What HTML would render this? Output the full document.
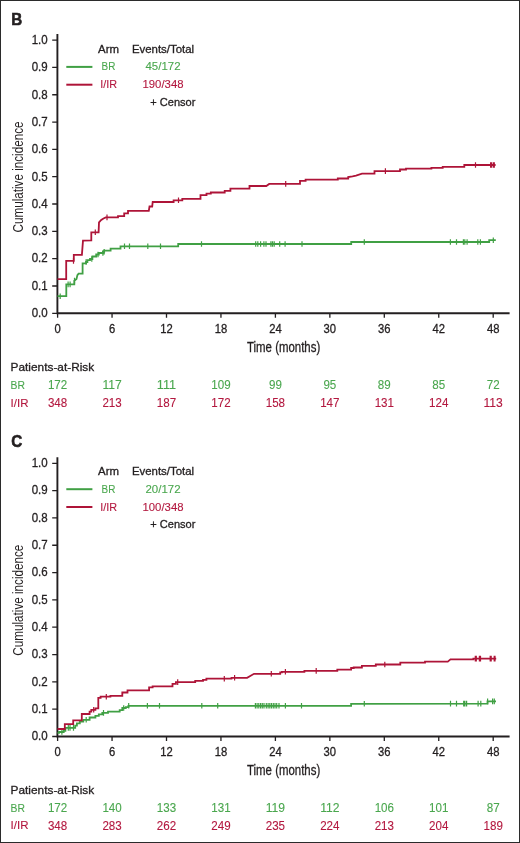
<!DOCTYPE html>
<html><head><meta charset="utf-8"><style>
html,body{margin:0;padding:0;background:#fff;}
body{width:520px;height:843px;overflow:hidden;}
svg{display:block;font-family:"Liberation Sans",sans-serif;will-change:transform;}
</style></head><body>
<svg width="520" height="843" viewBox="0 0 520 843">
<rect x="0" y="0" width="520" height="843" fill="#fff"/>
<text x="11.2" y="24.5" font-size="17" fill="#231f20" textLength="11" lengthAdjust="spacingAndGlyphs" font-weight="bold" stroke="#231f20" stroke-width="0.6">B</text>
<path d="M57.4 34 V313.3 H509.6" fill="none" stroke="#231f20" stroke-width="1.9"/>
<path d="M52.2 313.3H57.4M52.2 285.98H57.4M52.2 258.66H57.4M52.2 231.34H57.4M52.2 204.02H57.4M52.2 176.7H57.4M52.2 149.38H57.4M52.2 122.06H57.4M52.2 94.74H57.4M52.2 67.42H57.4M52.2 40.1H57.4M57.6 313.3V317.8M112.05 313.3V317.8M166.5 313.3V317.8M220.95 313.3V317.8M275.4 313.3V317.8M329.85 313.3V317.8M384.3 313.3V317.8M438.75 313.3V317.8M493.2 313.3V317.8" stroke="#231f20" stroke-width="1.3" fill="none"/>
<text x="47.7" y="317.1" font-size="12.6" fill="#231f20" text-anchor="end" textLength="16" lengthAdjust="spacingAndGlyphs" stroke="#231f20" stroke-width="0.3">0.0</text>
<text x="47.7" y="289.78" font-size="12.6" fill="#231f20" text-anchor="end" textLength="16" lengthAdjust="spacingAndGlyphs" stroke="#231f20" stroke-width="0.3">0.1</text>
<text x="47.7" y="262.46" font-size="12.6" fill="#231f20" text-anchor="end" textLength="16" lengthAdjust="spacingAndGlyphs" stroke="#231f20" stroke-width="0.3">0.2</text>
<text x="47.7" y="235.14" font-size="12.6" fill="#231f20" text-anchor="end" textLength="16" lengthAdjust="spacingAndGlyphs" stroke="#231f20" stroke-width="0.3">0.3</text>
<text x="47.7" y="207.82" font-size="12.6" fill="#231f20" text-anchor="end" textLength="16" lengthAdjust="spacingAndGlyphs" stroke="#231f20" stroke-width="0.3">0.4</text>
<text x="47.7" y="180.5" font-size="12.6" fill="#231f20" text-anchor="end" textLength="16" lengthAdjust="spacingAndGlyphs" stroke="#231f20" stroke-width="0.3">0.5</text>
<text x="47.7" y="153.18" font-size="12.6" fill="#231f20" text-anchor="end" textLength="16" lengthAdjust="spacingAndGlyphs" stroke="#231f20" stroke-width="0.3">0.6</text>
<text x="47.7" y="125.86" font-size="12.6" fill="#231f20" text-anchor="end" textLength="16" lengthAdjust="spacingAndGlyphs" stroke="#231f20" stroke-width="0.3">0.7</text>
<text x="47.7" y="98.54" font-size="12.6" fill="#231f20" text-anchor="end" textLength="16" lengthAdjust="spacingAndGlyphs" stroke="#231f20" stroke-width="0.3">0.8</text>
<text x="47.7" y="71.22" font-size="12.6" fill="#231f20" text-anchor="end" textLength="16" lengthAdjust="spacingAndGlyphs" stroke="#231f20" stroke-width="0.3">0.9</text>
<text x="47.7" y="43.9" font-size="12.6" fill="#231f20" text-anchor="end" textLength="16" lengthAdjust="spacingAndGlyphs" stroke="#231f20" stroke-width="0.3">1.0</text>
<text x="57.6" y="332.9" font-size="12" fill="#231f20" text-anchor="middle" textLength="6.25" lengthAdjust="spacingAndGlyphs" stroke="#231f20" stroke-width="0.3">0</text>
<text x="112.05" y="332.9" font-size="12" fill="#231f20" text-anchor="middle" textLength="6.25" lengthAdjust="spacingAndGlyphs" stroke="#231f20" stroke-width="0.3">6</text>
<text x="166.5" y="332.9" font-size="12" fill="#231f20" text-anchor="middle" textLength="12.5" lengthAdjust="spacingAndGlyphs" stroke="#231f20" stroke-width="0.3">12</text>
<text x="220.95" y="332.9" font-size="12" fill="#231f20" text-anchor="middle" textLength="12.5" lengthAdjust="spacingAndGlyphs" stroke="#231f20" stroke-width="0.3">18</text>
<text x="275.4" y="332.9" font-size="12" fill="#231f20" text-anchor="middle" textLength="12.5" lengthAdjust="spacingAndGlyphs" stroke="#231f20" stroke-width="0.3">24</text>
<text x="329.85" y="332.9" font-size="12" fill="#231f20" text-anchor="middle" textLength="12.5" lengthAdjust="spacingAndGlyphs" stroke="#231f20" stroke-width="0.3">30</text>
<text x="384.3" y="332.9" font-size="12" fill="#231f20" text-anchor="middle" textLength="12.5" lengthAdjust="spacingAndGlyphs" stroke="#231f20" stroke-width="0.3">36</text>
<text x="438.75" y="332.9" font-size="12" fill="#231f20" text-anchor="middle" textLength="12.5" lengthAdjust="spacingAndGlyphs" stroke="#231f20" stroke-width="0.3">42</text>
<text x="493.2" y="332.9" font-size="12" fill="#231f20" text-anchor="middle" textLength="12.5" lengthAdjust="spacingAndGlyphs" stroke="#231f20" stroke-width="0.3">48</text>
<text x="283.6" y="352" font-size="14" fill="#231f20" text-anchor="middle" textLength="73.2" lengthAdjust="spacingAndGlyphs" stroke="#231f20" stroke-width="0.3">Time (months)</text>
<text x="0" y="0" font-size="14" fill="#231f20" text-anchor="middle" textLength="111" lengthAdjust="spacingAndGlyphs" transform="translate(23 177) rotate(-90)">Cumulative incidence</text>
<text x="108.5" y="52.8" font-size="11" fill="#231f20" text-anchor="middle" textLength="21" lengthAdjust="spacingAndGlyphs" stroke="#231f20" stroke-width="0.3">Arm</text>
<text x="163" y="52.8" font-size="11" fill="#231f20" text-anchor="middle" textLength="62.2" lengthAdjust="spacingAndGlyphs" stroke="#231f20" stroke-width="0.3">Events/Total</text>
<path d="M66.3 66.9H92.4" stroke="#40a044" stroke-width="2"/>
<path d="M66.3 84.7H92.4" stroke="#ae1438" stroke-width="2"/>
<text x="108.5" y="70.4" font-size="11" fill="#4aa74e" text-anchor="middle" textLength="13.8" lengthAdjust="spacingAndGlyphs" stroke="#4aa74e" stroke-width="0.1">BR</text>
<text x="108.6" y="88.3" font-size="11" fill="#b3183f" text-anchor="middle" textLength="16.9" lengthAdjust="spacingAndGlyphs" stroke="#b3183f" stroke-width="0.1">I/IR</text>
<text x="163" y="70.4" font-size="11" fill="#4aa74e" text-anchor="middle" textLength="35.1" lengthAdjust="spacingAndGlyphs" stroke="#4aa74e" stroke-width="0.1">45/172</text>
<text x="163" y="88.3" font-size="11" fill="#b3183f" text-anchor="middle" textLength="41" lengthAdjust="spacingAndGlyphs" stroke="#b3183f" stroke-width="0.1">190/348</text>
<text x="150.3" y="106.1" font-size="11" fill="#231f20" textLength="45.1" lengthAdjust="spacingAndGlyphs" stroke="#231f20" stroke-width="0.3">+ Censor</text>
<path d="M57.5 296.2 L66.3 296.2 L66.3 284.4 L74.3 284.4 L74.3 280.8 L76.5 279 L77.4 275.1 L78.6 273.6 L82.6 273.6 L82.6 263.3 L86 263.3 L86 262 L87.4 262 L87.4 260.2 L90 260.2 L90 259 L92.4 259 L92.4 256.5 L96.2 256.5 L96.2 254.5 L98.8 254.5 L98.8 253 L102.9 253 L102.9 251.8 L104.2 251.8 L104.2 250.6 L110.6 250.6 L110.6 248.7 L120.5 248.7 L120.5 246.3 L178.2 246.3 L178.2 244 L351.2 244 L351.2 242 L489.2 242 L489.2 240.2 L495.8 240.2" fill="none" stroke="#40a044" stroke-width="1.8" stroke-linejoin="miter"/>
<path d="M60.2 293.4V299M68.1 281.6V287.2M70.1 281.6V287.2M74.5 277.84V283.44M86.1 259.2V264.8M91.8 256.2V261.8M98 251.7V257.3M102.9 250.2V255.8M104.2 249V254.6M124.5 243.5V249.1M129.5 243.5V249.1M147.8 243.5V249.1M160.5 243.5V249.1M201.5 241.2V246.8M255.7 241.2V246.8M257.8 241.2V246.8M260.6 241.2V246.8M263.9 241.2V246.8M266 241.2V246.8M270.9 241.2V246.8M272.5 241.2V246.8M274.2 241.2V246.8M279.7 241.2V246.8M285.1 241.2V246.8M302 241.2V246.8M364.3 239.2V244.8M450.4 239.2V244.8M456.5 239.2V244.8M463.4 239.2V244.8M464.8 239.2V244.8M467.1 239.2V244.8M477.8 239.2V244.8M480.4 239.2V244.8M493.3 237.4V243" stroke="#40a044" stroke-width="1.2" fill="none"/>
<path d="M57.5 279.2 L66.2 279.2 L66.2 260.9 L73.8 260.9 L73.8 254.8 L81.9 254.8 L83 240.7 L91.3 240.3 L91.3 232.3 L98.6 232.3 L99 222.4 L101.2 220 L103.5 218.5 L105.8 217.4 L118 217.4 L118 216.2 L124.2 216.2 L124.2 213.4 L128 213.4 L128 210.8 L148.8 210.8 L149.5 206.5 L152.2 206.5 L152.7 202 L173.6 202 L173.6 200.3 L182.3 200.3 L182.3 198.9 L200.5 198.9 L200.5 195.1 L206.5 195.1 L206.5 193.7 L210.8 193.7 L210.8 192.5 L224.7 192.5 L224.7 190.8 L230.4 190.8 L230.4 188.7 L249.5 188.7 L249.5 186 L266.3 186 L269.2 183.9 L300 183.9 L300 180.8 L305.6 180.8 L305.6 179.6 L337.8 179.6 L337.8 178.5 L348.2 178.5 L348.2 177 L352.5 176.3 L356 175.6 L362 173.7 L374.5 173.7 L374.5 171.1 L400 171.1 L400 169.5 L406 169.5 L406 168.7 L431.4 168.7 L431.4 167.8 L442.7 167.8 L442.7 166.8 L464.3 166.8 L464.3 165 L495.6 165" fill="none" stroke="#ae1438" stroke-width="1.8" stroke-linejoin="miter"/>
<path d="M73.5 258.1V263.7M95.3 229.5V235.1M107 214.6V220.2M178.5 197.5V203.1M285.7 181.1V186.7M385.4 168.3V173.9M475.5 162.2V167.8M490.6 162.2V167.8M491.6 162.2V167.8M493.4 162.2V167.8M494.3 162.2V167.8" stroke="#ae1438" stroke-width="1.2" fill="none"/>
<text x="10.6" y="371.3" font-size="11.5" fill="#231f20" textLength="83.6" lengthAdjust="spacingAndGlyphs" stroke="#231f20" stroke-width="0.3">Patients-at-Risk</text>
<text x="10.6" y="388.7" font-size="11.5" fill="#4aa74e" textLength="14.4" lengthAdjust="spacingAndGlyphs" stroke="#4aa74e" stroke-width="0.1">BR</text>
<text x="10.6" y="406.5" font-size="11.5" fill="#b3183f" textLength="17.9" lengthAdjust="spacingAndGlyphs" stroke="#b3183f" stroke-width="0.1">I/IR</text>
<text x="57.6" y="388.9" font-size="12" fill="#4aa74e" text-anchor="middle" textLength="19.35" lengthAdjust="spacingAndGlyphs" stroke="#4aa74e" stroke-width="0.1">172</text>
<text x="57.6" y="406.7" font-size="12" fill="#b3183f" text-anchor="middle" textLength="19.35" lengthAdjust="spacingAndGlyphs" stroke="#b3183f" stroke-width="0.1">348</text>
<text x="112.05" y="388.9" font-size="12" fill="#4aa74e" text-anchor="middle" textLength="19.35" lengthAdjust="spacingAndGlyphs" stroke="#4aa74e" stroke-width="0.1">117</text>
<text x="112.05" y="406.7" font-size="12" fill="#b3183f" text-anchor="middle" textLength="19.35" lengthAdjust="spacingAndGlyphs" stroke="#b3183f" stroke-width="0.1">213</text>
<text x="166.5" y="388.9" font-size="12" fill="#4aa74e" text-anchor="middle" textLength="19.35" lengthAdjust="spacingAndGlyphs" stroke="#4aa74e" stroke-width="0.1">111</text>
<text x="166.5" y="406.7" font-size="12" fill="#b3183f" text-anchor="middle" textLength="19.35" lengthAdjust="spacingAndGlyphs" stroke="#b3183f" stroke-width="0.1">187</text>
<text x="220.95" y="388.9" font-size="12" fill="#4aa74e" text-anchor="middle" textLength="19.35" lengthAdjust="spacingAndGlyphs" stroke="#4aa74e" stroke-width="0.1">109</text>
<text x="220.95" y="406.7" font-size="12" fill="#b3183f" text-anchor="middle" textLength="19.35" lengthAdjust="spacingAndGlyphs" stroke="#b3183f" stroke-width="0.1">172</text>
<text x="275.4" y="388.9" font-size="12" fill="#4aa74e" text-anchor="middle" textLength="12.9" lengthAdjust="spacingAndGlyphs" stroke="#4aa74e" stroke-width="0.1">99</text>
<text x="275.4" y="406.7" font-size="12" fill="#b3183f" text-anchor="middle" textLength="19.35" lengthAdjust="spacingAndGlyphs" stroke="#b3183f" stroke-width="0.1">158</text>
<text x="329.85" y="388.9" font-size="12" fill="#4aa74e" text-anchor="middle" textLength="12.9" lengthAdjust="spacingAndGlyphs" stroke="#4aa74e" stroke-width="0.1">95</text>
<text x="329.85" y="406.7" font-size="12" fill="#b3183f" text-anchor="middle" textLength="19.35" lengthAdjust="spacingAndGlyphs" stroke="#b3183f" stroke-width="0.1">147</text>
<text x="384.3" y="388.9" font-size="12" fill="#4aa74e" text-anchor="middle" textLength="12.9" lengthAdjust="spacingAndGlyphs" stroke="#4aa74e" stroke-width="0.1">89</text>
<text x="384.3" y="406.7" font-size="12" fill="#b3183f" text-anchor="middle" textLength="19.35" lengthAdjust="spacingAndGlyphs" stroke="#b3183f" stroke-width="0.1">131</text>
<text x="438.75" y="388.9" font-size="12" fill="#4aa74e" text-anchor="middle" textLength="12.9" lengthAdjust="spacingAndGlyphs" stroke="#4aa74e" stroke-width="0.1">85</text>
<text x="438.75" y="406.7" font-size="12" fill="#b3183f" text-anchor="middle" textLength="19.35" lengthAdjust="spacingAndGlyphs" stroke="#b3183f" stroke-width="0.1">124</text>
<text x="493.2" y="388.9" font-size="12" fill="#4aa74e" text-anchor="middle" textLength="12.9" lengthAdjust="spacingAndGlyphs" stroke="#4aa74e" stroke-width="0.1">72</text>
<text x="493.2" y="406.7" font-size="12" fill="#b3183f" text-anchor="middle" textLength="19.35" lengthAdjust="spacingAndGlyphs" stroke="#b3183f" stroke-width="0.1">113</text>
<text x="11.2" y="446.8" font-size="17" fill="#231f20" textLength="11" lengthAdjust="spacingAndGlyphs" font-weight="bold" stroke="#231f20" stroke-width="0.6">C</text>
<path d="M57.4 457.2 V736.5 H509.6" fill="none" stroke="#231f20" stroke-width="1.9"/>
<path d="M52.2 736.5H57.4M52.2 709.18H57.4M52.2 681.86H57.4M52.2 654.54H57.4M52.2 627.22H57.4M52.2 599.9H57.4M52.2 572.58H57.4M52.2 545.26H57.4M52.2 517.94H57.4M52.2 490.62H57.4M52.2 463.3H57.4M57.6 736.5V741M112.05 736.5V741M166.5 736.5V741M220.95 736.5V741M275.4 736.5V741M329.85 736.5V741M384.3 736.5V741M438.75 736.5V741M493.2 736.5V741" stroke="#231f20" stroke-width="1.3" fill="none"/>
<text x="47.7" y="740.3" font-size="12.6" fill="#231f20" text-anchor="end" textLength="16" lengthAdjust="spacingAndGlyphs" stroke="#231f20" stroke-width="0.3">0.0</text>
<text x="47.7" y="712.98" font-size="12.6" fill="#231f20" text-anchor="end" textLength="16" lengthAdjust="spacingAndGlyphs" stroke="#231f20" stroke-width="0.3">0.1</text>
<text x="47.7" y="685.66" font-size="12.6" fill="#231f20" text-anchor="end" textLength="16" lengthAdjust="spacingAndGlyphs" stroke="#231f20" stroke-width="0.3">0.2</text>
<text x="47.7" y="658.34" font-size="12.6" fill="#231f20" text-anchor="end" textLength="16" lengthAdjust="spacingAndGlyphs" stroke="#231f20" stroke-width="0.3">0.3</text>
<text x="47.7" y="631.02" font-size="12.6" fill="#231f20" text-anchor="end" textLength="16" lengthAdjust="spacingAndGlyphs" stroke="#231f20" stroke-width="0.3">0.4</text>
<text x="47.7" y="603.7" font-size="12.6" fill="#231f20" text-anchor="end" textLength="16" lengthAdjust="spacingAndGlyphs" stroke="#231f20" stroke-width="0.3">0.5</text>
<text x="47.7" y="576.38" font-size="12.6" fill="#231f20" text-anchor="end" textLength="16" lengthAdjust="spacingAndGlyphs" stroke="#231f20" stroke-width="0.3">0.6</text>
<text x="47.7" y="549.06" font-size="12.6" fill="#231f20" text-anchor="end" textLength="16" lengthAdjust="spacingAndGlyphs" stroke="#231f20" stroke-width="0.3">0.7</text>
<text x="47.7" y="521.74" font-size="12.6" fill="#231f20" text-anchor="end" textLength="16" lengthAdjust="spacingAndGlyphs" stroke="#231f20" stroke-width="0.3">0.8</text>
<text x="47.7" y="494.42" font-size="12.6" fill="#231f20" text-anchor="end" textLength="16" lengthAdjust="spacingAndGlyphs" stroke="#231f20" stroke-width="0.3">0.9</text>
<text x="47.7" y="467.1" font-size="12.6" fill="#231f20" text-anchor="end" textLength="16" lengthAdjust="spacingAndGlyphs" stroke="#231f20" stroke-width="0.3">1.0</text>
<text x="57.6" y="756.1" font-size="12" fill="#231f20" text-anchor="middle" textLength="6.25" lengthAdjust="spacingAndGlyphs" stroke="#231f20" stroke-width="0.3">0</text>
<text x="112.05" y="756.1" font-size="12" fill="#231f20" text-anchor="middle" textLength="6.25" lengthAdjust="spacingAndGlyphs" stroke="#231f20" stroke-width="0.3">6</text>
<text x="166.5" y="756.1" font-size="12" fill="#231f20" text-anchor="middle" textLength="12.5" lengthAdjust="spacingAndGlyphs" stroke="#231f20" stroke-width="0.3">12</text>
<text x="220.95" y="756.1" font-size="12" fill="#231f20" text-anchor="middle" textLength="12.5" lengthAdjust="spacingAndGlyphs" stroke="#231f20" stroke-width="0.3">18</text>
<text x="275.4" y="756.1" font-size="12" fill="#231f20" text-anchor="middle" textLength="12.5" lengthAdjust="spacingAndGlyphs" stroke="#231f20" stroke-width="0.3">24</text>
<text x="329.85" y="756.1" font-size="12" fill="#231f20" text-anchor="middle" textLength="12.5" lengthAdjust="spacingAndGlyphs" stroke="#231f20" stroke-width="0.3">30</text>
<text x="384.3" y="756.1" font-size="12" fill="#231f20" text-anchor="middle" textLength="12.5" lengthAdjust="spacingAndGlyphs" stroke="#231f20" stroke-width="0.3">36</text>
<text x="438.75" y="756.1" font-size="12" fill="#231f20" text-anchor="middle" textLength="12.5" lengthAdjust="spacingAndGlyphs" stroke="#231f20" stroke-width="0.3">42</text>
<text x="493.2" y="756.1" font-size="12" fill="#231f20" text-anchor="middle" textLength="12.5" lengthAdjust="spacingAndGlyphs" stroke="#231f20" stroke-width="0.3">48</text>
<text x="283.6" y="775.2" font-size="14" fill="#231f20" text-anchor="middle" textLength="73.2" lengthAdjust="spacingAndGlyphs" stroke="#231f20" stroke-width="0.3">Time (months)</text>
<text x="0" y="0" font-size="14" fill="#231f20" text-anchor="middle" textLength="111" lengthAdjust="spacingAndGlyphs" transform="translate(23 600.2) rotate(-90)">Cumulative incidence</text>
<text x="108.5" y="475.1" font-size="11" fill="#231f20" text-anchor="middle" textLength="21" lengthAdjust="spacingAndGlyphs" stroke="#231f20" stroke-width="0.3">Arm</text>
<text x="163" y="475.1" font-size="11" fill="#231f20" text-anchor="middle" textLength="62.2" lengthAdjust="spacingAndGlyphs" stroke="#231f20" stroke-width="0.3">Events/Total</text>
<path d="M66.3 489.2H92.4" stroke="#40a044" stroke-width="2"/>
<path d="M66.3 507H92.4" stroke="#ae1438" stroke-width="2"/>
<text x="108.5" y="492.7" font-size="11" fill="#4aa74e" text-anchor="middle" textLength="13.8" lengthAdjust="spacingAndGlyphs" stroke="#4aa74e" stroke-width="0.1">BR</text>
<text x="108.6" y="510.6" font-size="11" fill="#b3183f" text-anchor="middle" textLength="16.9" lengthAdjust="spacingAndGlyphs" stroke="#b3183f" stroke-width="0.1">I/IR</text>
<text x="163" y="492.7" font-size="11" fill="#4aa74e" text-anchor="middle" textLength="35.1" lengthAdjust="spacingAndGlyphs" stroke="#4aa74e" stroke-width="0.1">20/172</text>
<text x="163" y="510.6" font-size="11" fill="#b3183f" text-anchor="middle" textLength="41" lengthAdjust="spacingAndGlyphs" stroke="#b3183f" stroke-width="0.1">100/348</text>
<text x="150.3" y="528.4" font-size="11" fill="#231f20" textLength="45.1" lengthAdjust="spacingAndGlyphs" stroke="#231f20" stroke-width="0.3">+ Censor</text>
<path d="M57.5 732.8 L59 732.8 L59 732 L63.7 732 L63.7 730.8 L65.4 730.8 L65.4 727.9 L75.2 727.9 L75.2 725.6 L76.9 725.6 L76.9 723.3 L79.8 723.3 L79.8 721.5 L83.3 721.5 L83.3 719.8 L89.6 719.8 L89.6 717.5 L95.4 717.5 L95.4 715.8 L98.8 715.8 L98.8 714.4 L102.3 714.4 L102.3 712.9 L108 712.9 L108 711.6 L119.7 711.6 L119.7 710.1 L122.3 710.1 L122.3 708 L125.8 708 L125.8 707.2 L128.4 707.2 L128.4 705.8 L351.1 705.8 L351.1 703.8 L487.5 703.6 L487.5 701.4 L496 701.4" fill="none" stroke="#40a044" stroke-width="1.8" stroke-linejoin="miter"/>
<path d="M61.9 729.2V734.8M68.3 725.1V730.7M70 725.1V730.7M73.5 725.1V730.7M86.2 717V722.6M103.5 710.1V715.7M123.7 705.2V710.8M128.7 703V708.6M147.4 703V708.6M159.5 703V708.6M201.8 703V708.6M217.7 703V708.6M255.4 703V708.6M257.1 703V708.6M258.8 703V708.6M260.6 703V708.6M262.3 703V708.6M264 703V708.6M266.3 703V708.6M268.1 703V708.6M269.8 703V708.6M271.5 703V708.6M273.3 703V708.6M275 703V708.6M276.7 703V708.6M279 703V708.6M285.4 703V708.6M301.5 703V708.6M364.3 700.98V706.58M450.5 700.85V706.45M456.5 700.85V706.45M463.7 700.83V706.43M464.9 700.83V706.43M466.6 700.83V706.43M478.1 700.81V706.41M480.8 700.81V706.41M487.6 698.6V704.2M492.6 698.6V704.2M494.3 698.6V704.2" stroke="#40a044" stroke-width="1.2" fill="none"/>
<path d="M57.5 729 L64.8 729 L64.8 724.1 L73.2 724.1 L73.2 720.4 L81.8 720.4 L81.8 714 L89.6 714 L89.6 711.7 L91.3 711.7 L91.3 709.8 L95.4 709.8 L95.4 708.3 L98.3 708.3 L98.3 697.9 L100.6 697.9 L100.6 696.7 L110.4 696.7 L110.4 695.8 L122.3 695.8 L122.3 692.5 L127.5 692.5 L127.5 690.4 L149.1 690.4 L149.1 687.3 L152.6 687.3 L152.6 686.4 L172.5 686.4 L172.5 683.8 L175.9 683.8 L175.9 682.1 L195.2 682.1 L195.2 680.8 L203 680.8 L203 679.9 L206.4 679.9 L206.4 678.7 L231.5 678.7 L231.5 677.8 L247.1 677.8 L254 673.8 L280.2 673.8 L280.2 672.3 L281.9 672.3 L281.9 671.8 L304.4 671.8 L304.4 670.9 L337.3 670.9 L337.3 669.7 L351.1 669.7 L351.1 668 L353.7 668 L353.7 667.5 L361.9 667.5 L361.9 665.8 L375.8 665.8 L375.8 664.5 L400.3 664.5 L400.3 662.6 L425 662.6 L425 661.6 L447.8 661.6 L450.5 659.4 L473.4 659.4 L473.4 658.6 L496.2 658.6" fill="none" stroke="#ae1438" stroke-width="1.8" stroke-linejoin="miter"/>
<path d="M93.7 707V712.6M106.3 693.9V699.5M177.7 679.3V684.9M224.3 675.9V681.5M234.6 675V680.6M271.3 671V676.6M285.4 669V674.6M316.2 668.1V673.7M384.8 661.7V667.3M475.3 655.8V661.4M476.3 655.8V661.4M479.4 655.8V661.4M480.5 655.8V661.4M490.2 655.8V661.4M491.2 655.8V661.4M494.2 655.8V661.4M495 655.8V661.4" stroke="#ae1438" stroke-width="1.2" fill="none"/>
<text x="10.6" y="794.1" font-size="11.5" fill="#231f20" textLength="83.6" lengthAdjust="spacingAndGlyphs" stroke="#231f20" stroke-width="0.3">Patients-at-Risk</text>
<text x="10.6" y="811.5" font-size="11.5" fill="#4aa74e" textLength="14.4" lengthAdjust="spacingAndGlyphs" stroke="#4aa74e" stroke-width="0.1">BR</text>
<text x="10.6" y="829.3" font-size="11.5" fill="#b3183f" textLength="17.9" lengthAdjust="spacingAndGlyphs" stroke="#b3183f" stroke-width="0.1">I/IR</text>
<text x="57.6" y="811.7" font-size="12" fill="#4aa74e" text-anchor="middle" textLength="19.35" lengthAdjust="spacingAndGlyphs" stroke="#4aa74e" stroke-width="0.1">172</text>
<text x="57.6" y="829.5" font-size="12" fill="#b3183f" text-anchor="middle" textLength="19.35" lengthAdjust="spacingAndGlyphs" stroke="#b3183f" stroke-width="0.1">348</text>
<text x="112.05" y="811.7" font-size="12" fill="#4aa74e" text-anchor="middle" textLength="19.35" lengthAdjust="spacingAndGlyphs" stroke="#4aa74e" stroke-width="0.1">140</text>
<text x="112.05" y="829.5" font-size="12" fill="#b3183f" text-anchor="middle" textLength="19.35" lengthAdjust="spacingAndGlyphs" stroke="#b3183f" stroke-width="0.1">283</text>
<text x="166.5" y="811.7" font-size="12" fill="#4aa74e" text-anchor="middle" textLength="19.35" lengthAdjust="spacingAndGlyphs" stroke="#4aa74e" stroke-width="0.1">133</text>
<text x="166.5" y="829.5" font-size="12" fill="#b3183f" text-anchor="middle" textLength="19.35" lengthAdjust="spacingAndGlyphs" stroke="#b3183f" stroke-width="0.1">262</text>
<text x="220.95" y="811.7" font-size="12" fill="#4aa74e" text-anchor="middle" textLength="19.35" lengthAdjust="spacingAndGlyphs" stroke="#4aa74e" stroke-width="0.1">131</text>
<text x="220.95" y="829.5" font-size="12" fill="#b3183f" text-anchor="middle" textLength="19.35" lengthAdjust="spacingAndGlyphs" stroke="#b3183f" stroke-width="0.1">249</text>
<text x="275.4" y="811.7" font-size="12" fill="#4aa74e" text-anchor="middle" textLength="19.35" lengthAdjust="spacingAndGlyphs" stroke="#4aa74e" stroke-width="0.1">119</text>
<text x="275.4" y="829.5" font-size="12" fill="#b3183f" text-anchor="middle" textLength="19.35" lengthAdjust="spacingAndGlyphs" stroke="#b3183f" stroke-width="0.1">235</text>
<text x="329.85" y="811.7" font-size="12" fill="#4aa74e" text-anchor="middle" textLength="19.35" lengthAdjust="spacingAndGlyphs" stroke="#4aa74e" stroke-width="0.1">112</text>
<text x="329.85" y="829.5" font-size="12" fill="#b3183f" text-anchor="middle" textLength="19.35" lengthAdjust="spacingAndGlyphs" stroke="#b3183f" stroke-width="0.1">224</text>
<text x="384.3" y="811.7" font-size="12" fill="#4aa74e" text-anchor="middle" textLength="19.35" lengthAdjust="spacingAndGlyphs" stroke="#4aa74e" stroke-width="0.1">106</text>
<text x="384.3" y="829.5" font-size="12" fill="#b3183f" text-anchor="middle" textLength="19.35" lengthAdjust="spacingAndGlyphs" stroke="#b3183f" stroke-width="0.1">213</text>
<text x="438.75" y="811.7" font-size="12" fill="#4aa74e" text-anchor="middle" textLength="19.35" lengthAdjust="spacingAndGlyphs" stroke="#4aa74e" stroke-width="0.1">101</text>
<text x="438.75" y="829.5" font-size="12" fill="#b3183f" text-anchor="middle" textLength="19.35" lengthAdjust="spacingAndGlyphs" stroke="#b3183f" stroke-width="0.1">204</text>
<text x="493.2" y="811.7" font-size="12" fill="#4aa74e" text-anchor="middle" textLength="12.9" lengthAdjust="spacingAndGlyphs" stroke="#4aa74e" stroke-width="0.1">87</text>
<text x="493.2" y="829.5" font-size="12" fill="#b3183f" text-anchor="middle" textLength="19.35" lengthAdjust="spacingAndGlyphs" stroke="#b3183f" stroke-width="0.1">189</text>
<rect x="0.5" y="0.5" width="519" height="842" fill="none" stroke="#2b2b2b" stroke-width="1"/>
</svg>
</body></html>
